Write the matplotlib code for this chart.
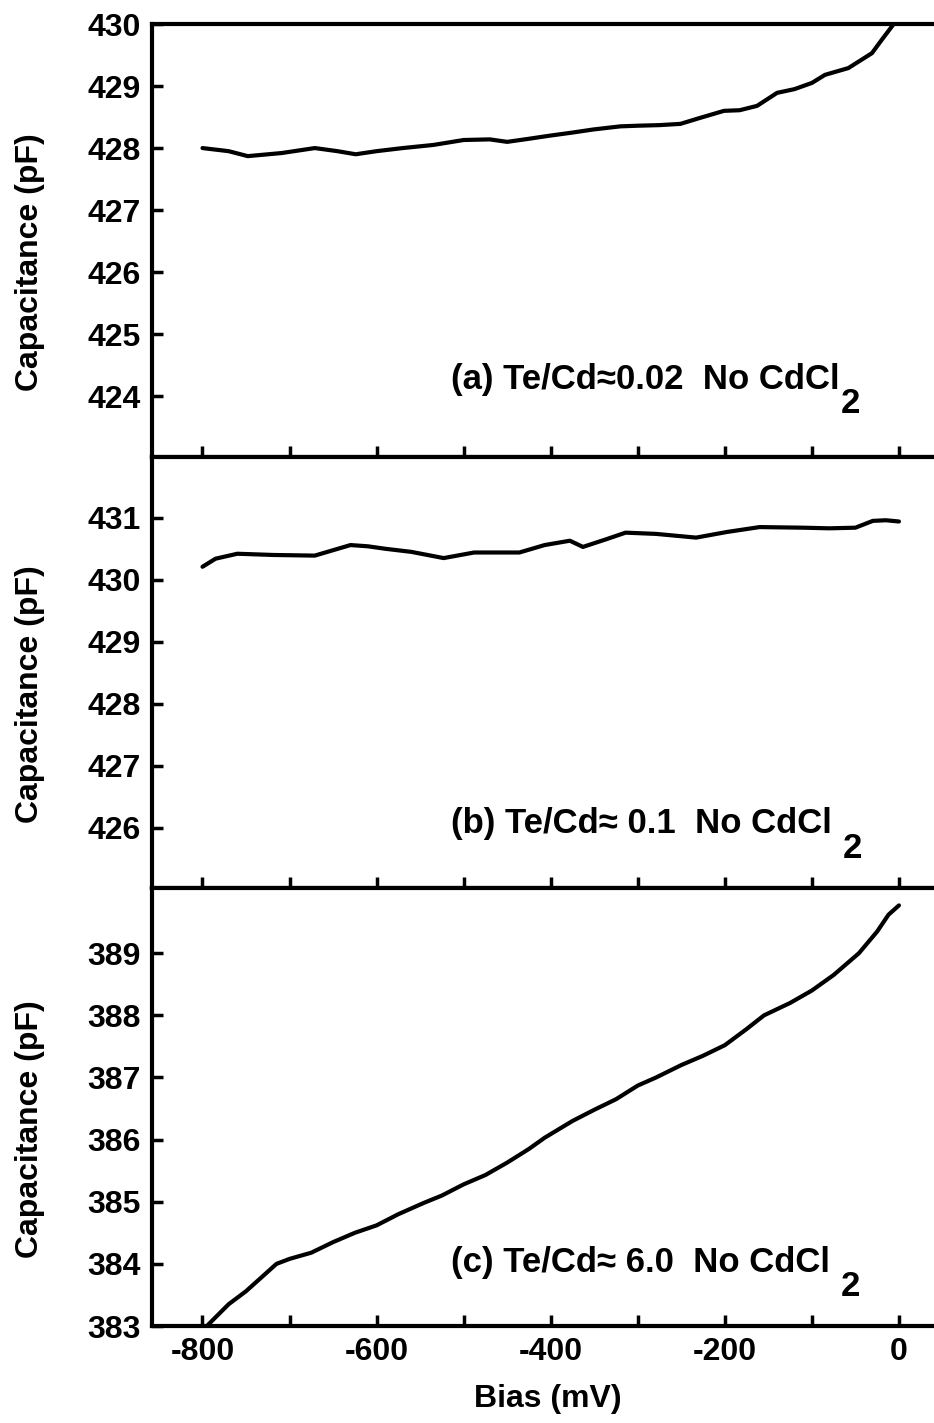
import numpy as np
import matplotlib
matplotlib.use('Agg')
from matplotlib import pyplot as plt

plt.rcParams['font.family'] = ['Liberation Sans', 'DejaVu Sans']
plt.rcParams['font.weight'] = 'bold'
plt.rcParams['axes.labelweight'] = 'bold'
plt.rcParams['axes.unicode_minus'] = False

# panel (a)
bias_a = [-800, -770, -748, -709, -671, -645, -624, -600, -570, -535, -500, -470,
          -450, -425, -401, -375, -351, -320, -301, -275, -251, -230, -201, -183,
          -163, -140, -120, -100, -85, -58, -31, -20, -6]
cap_a = [428.0, 427.95, 427.87, 427.92, 428.0, 427.95, 427.9, 427.95, 428.0, 428.05,
         428.13, 428.14, 428.1, 428.15, 428.2, 428.25, 428.3, 428.35, 428.36, 428.37,
         428.39, 428.48, 428.6, 428.61, 428.68, 428.89, 428.95, 429.05, 429.18, 429.29,
         429.53, 429.74, 430.0]

# panel (b)
bias_b = [-800, -785, -760, -718, -671, -630, -610, -590, -560, -523, -488, -436,
          -407, -378, -363, -337, -314, -279, -233, -198, -160, -110, -80, -50,
          -30, -15, 0]
cap_b = [430.21, 430.34, 430.42, 430.40, 430.39, 430.56, 430.54, 430.5, 430.45, 430.35,
         430.44, 430.44, 430.56, 430.63, 430.53, 430.65, 430.76, 430.74, 430.68, 430.77,
         430.85, 430.84, 430.83, 430.84, 430.95, 430.96, 430.94]

# panel (c)
bias_c = [-795, -770, -750, -715, -700, -675, -650, -625, -600, -575, -546, -525,
          -500, -475, -450, -425, -407, -375, -350, -325, -300, -279, -250, -225,
          -200, -175, -155, -125, -100, -75, -46, -25, -12, 0]
cap_c = [383.0, 383.35, 383.56, 384.0, 384.08, 384.18, 384.35, 384.5, 384.62, 384.8,
         384.98, 385.1, 385.28, 385.43, 385.63, 385.85, 386.03, 386.3, 386.48, 386.65,
         386.87, 387.0, 387.2, 387.35, 387.52, 387.78, 388.0, 388.2, 388.4, 388.65,
         389.0, 389.35, 389.62, 389.77]

labels = ['(a) Te/Cd\u22480.02  No CdCl',
          '(b) Te/Cd\u2248 0.1  No CdCl ',
          '(c) Te/Cd\u2248 6.0  No CdCl ']
ylims = [(423.02, 430.0), (425.03, 431.98), (383.0, 390.05)]
yticks = [range(424, 431), range(426, 432), range(383, 390)]
label_pos = [0.18, 0.15, 0.146]

fs = 23

fig = plt.figure(figsize=(9.34, 14.23), dpi=100)
left = 152 / 934
width = 1 - left + 0.01
tops = [24, 457, 888]
bottoms = [457, 888, 1326]
series = [(bias_a, cap_a), (bias_b, cap_b), (bias_c, cap_c)]

for i in range(3):
    b = 1 - bottoms[i] / 1423
    h = (bottoms[i] - tops[i]) / 1423
    ax = fig.add_axes([left, b, width, h])
    x, y = series[i]
    ax.plot(x, y, color='black', lw=3, solid_capstyle='round', solid_joinstyle='round')
    ax.set_xlim(-858, 51)
    ax.set_ylim(*ylims[i])
    ax.set_yticks(list(yticks[i]))
    ax.set_xticks(np.arange(-800, 1, 200))
    ax.set_xticks(np.arange(-700, 0, 200), minor=True)
    ax.tick_params(which='both', direction='in', length=8, width=2.5,
                   labelsize=fs, top=False, right=False, pad=8)
    ax.spines['right'].set_visible(False)
    for s in ['left', 'top', 'bottom']:
        ax.spines[s].set_linewidth(3)
    if i < 2:
        ax.tick_params(axis='x', labelbottom=False)
    ax.set_ylabel('Capacitance (pF)', fontsize=fs)
    ax.yaxis.set_label_coords(-0.135, 0.45)
    t = ax.text(-515, label_pos[i], labels[i], fontsize=25, va='center', ha='left',
                transform=ax.get_xaxis_transform())
    ax.annotate('2', xy=(1, 0), xycoords=t, xytext=(1, -6),
                textcoords='offset points', fontsize=25, va='center', ha='left')
    if i == 2:
        ax.set_xlabel('Bias (mV)', fontsize=fs, labelpad=12)

fig.savefig('out.png', dpi=100)
